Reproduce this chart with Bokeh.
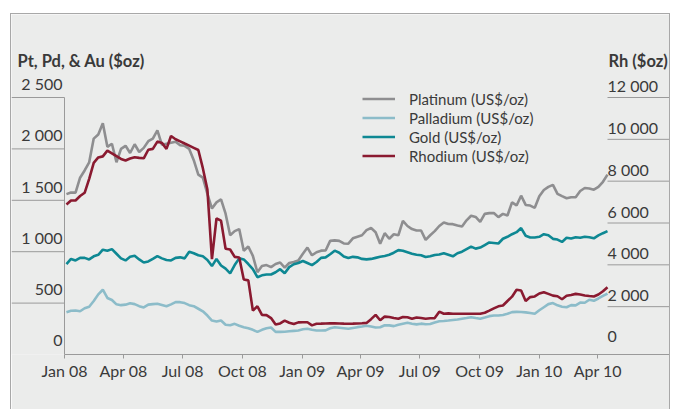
import pandas as pd
from bokeh.plotting import figure
from bokeh.models import (Range1d, FixedTicker, DatetimeTickFormatter,
                          Legend, LegendItem, Label, Spacer)
from bokeh.core.properties import value
from bokeh.layouts import row, column
from bokeh.embed import file_html
from bokeh.resources import INLINE

# ---------------- data (weekly) ----------------
start_week = "2008-01-04"
n_weeks = 120

platinum = [
    1560, 1576, 1575, 1720, 1790, 1870, 2100, 2140, 2250, 2020,
    2050, 1870, 2000, 2030, 1960, 2045, 1970, 2010, 2075, 2100,
    2180, 2040, 2050, 2060, 2070, 2035, 2030, 2000, 1890, 1750,
    1720, 1563, 1420, 1480, 1510, 1370, 1160, 1200, 1220, 1010,
    1050, 960, 800, 860, 870, 850, 880, 895, 845, 890,
    900, 915, 980, 1040, 965, 995, 1010, 1012, 1105, 1110,
    1105, 1080, 1078, 1130, 1145, 1160, 1210, 1230, 1190, 1077,
    1180, 1126, 1170, 1160, 1300, 1250, 1220, 1206, 1206, 1115,
    1160, 1200, 1250, 1285, 1270, 1268, 1255, 1245, 1305, 1350,
    1338, 1290, 1368, 1375, 1377, 1336, 1368, 1352, 1480, 1450,
    1545, 1455, 1449, 1427, 1540, 1600, 1630, 1650, 1563, 1540,
    1520, 1530, 1530, 1590, 1620, 1615, 1603, 1630, 1680, 1750,
]

palladium = [
    410, 425, 428, 421, 450, 465, 520, 585, 630, 550,
    530, 488, 480, 485, 498, 490, 470, 458, 485, 490,
    493, 482, 470, 488, 509, 509, 500, 480, 470, 445,
    420, 379, 330, 320, 331, 290, 285, 298, 280, 266,
    255, 240, 220, 240, 255, 262, 220, 220, 222, 226,
    230, 234, 245, 250, 240, 233, 233, 235, 255, 265,
    260, 255, 250, 258, 266, 272, 280, 272, 262, 265,
    285, 283, 276, 290, 300, 308, 300, 293, 300, 295,
    297, 312, 324, 326, 330, 335, 340, 348, 355, 363,
    355, 348, 360, 373, 379, 379, 385, 396, 412, 415,
    413, 410, 403, 396, 430, 460, 490, 500, 478, 465,
    460, 480, 478, 505, 503, 533, 522, 545, 570, 592,
]

gold = [
    880, 930, 915, 940, 940, 925, 955, 970, 1020, 1010,
    1025, 980, 935, 915, 950, 960, 925, 895, 905, 930,
    957, 935, 920, 915, 940, 945, 935, 1000, 985, 965,
    955, 920, 860, 930, 866, 835, 790, 870, 935, 925,
    880, 830, 752, 770, 778, 778, 800, 830, 790, 850,
    878, 890, 910, 890, 870, 900, 940, 945, 975, 1010,
    990, 953, 938, 950, 945, 930, 925, 930, 940, 950,
    958, 970, 990, 1015, 1010, 995, 980, 970, 965, 948,
    955, 968, 972, 985, 970, 955, 985, 1000, 1025, 1050,
    1030, 1040, 1065, 1090, 1085, 1080, 1126, 1145, 1170, 1190,
    1230, 1155, 1138, 1138, 1145, 1170, 1160, 1125, 1118, 1095,
    1135, 1128, 1140, 1135, 1145, 1140, 1130, 1158, 1180, 1200,
]

rhodium = [
    6881, 7076, 7076, 7291, 7444, 8110, 8878, 9134, 9185, 9461,
    9328, 9195, 9062, 8990, 9083, 9144, 9113, 9093, 9502, 9543,
    9892, 9830, 9543, 10158, 10004, 9902, 9799, 9697, 9595, 9492,
    8622, 7598, 4270, 6215, 6113, 4766, 4731, 4382, 4352, 3297,
    3256, 1812, 2017, 1607, 1597, 1454, 1147, 1198, 1331, 1229,
    1167, 1249, 1257, 1257, 1106, 1180, 1188, 1198, 1203, 1208,
    1198, 1188, 1182, 1188, 1198, 1208, 1223, 1403, 1607, 1351,
    1525, 1505, 1454, 1423, 1505, 1495, 1423, 1485, 1454, 1423,
    1444, 1454, 1761, 1659, 1679, 1659, 1659, 1659, 1659, 1659,
    1659, 1659, 1710, 1812, 1915, 2017, 2058, 2273, 2478, 2805,
    2775, 2273, 2457, 2488, 2631, 2693, 2611, 2529, 2498, 2355,
    2519, 2560, 2611, 2580, 2534, 2509, 2488, 2580, 2734, 2928,
]

series_names = ["Platinum (US$/oz)", "Palladium (US$/oz)", "Gold (US$/oz)", "Rhodium (US$/oz)"]

left_ticks = [0, 500, 1000, 1500, 2000, 2500]
left_tick_labels = ["0", "500", "1 000", "1 500", "2 000", "2 500"]
right_ticks = [0, 2000, 4000, 6000, 8000, 10000, 12000]
right_tick_labels = ["0", "2 000", "4 000", "6 000", "8 000", "10 000", "12 000"]
x_tick_dates = ["2008-01-01", "2008-04-01", "2008-07-01", "2008-10-01", "2009-01-01",
                "2009-04-01", "2009-07-01", "2009-10-01", "2010-01-01", "2010-04-01"]
x_axis_start = "2008-01-01"
left_title = "Pt, Pd, & Au ($oz)"
right_title = "Rh ($oz)"

# ---------------- layout / styles ----------------
BG = "#ebeceb"
FRAME_LINE = "#a8a8a8"
AXIS = "#9a9a9a"
TEXT = "#3a3a3a"
FONT = "Lato"
C_PT = "#8e8e90"
C_PD = "#8cbcc9"
C_AU = "#0e8893"
C_RH = "#8a1a30"

W, H = 660, 396          # canvas size
BOTTOM = 56              # space under the frame for the date axis
LEFT_PAD, RIGHT_PAD = 53, 64   # px left of Jan 08 / right of last week
FRAME_H = H - BOTTOM
LEFT_SPAN_PX = 257       # px for 0..2500 on the left scale
RIGHT_SPAN_PX = 251      # px for 0..12000 on the right scale
RIGHT_ZERO_PX = 6        # right-scale zero sits this many px above the date axis


def ms(t):
    return pd.Timestamp(t).value / 1e6


dates = pd.date_range(start_week, periods=n_weeks, freq="7D")
x_start = ms(x_axis_start)
x_end = ms(dates[-1])
px_per_ms = (W - LEFT_PAD - RIGHT_PAD) / (x_end - x_start)
x_lo = x_start - LEFT_PAD / px_per_ms
x_hi = x_end + RIGHT_PAD / px_per_ms

y_top = left_ticks[-1] * FRAME_H / LEFT_SPAN_PX
rh_per_px = right_ticks[-1] / RIGHT_SPAN_PX
rh_lo = -RIGHT_ZERO_PX * rh_per_px
rh_hi = rh_lo + FRAME_H * rh_per_px

p = figure(width=W, height=H, x_axis_type="datetime",
           x_range=Range1d(x_lo, x_hi), y_range=Range1d(0, y_top),
           output_backend="svg", toolbar_location=None,
           min_border_left=0, min_border_right=0, min_border_top=0, min_border_bottom=BOTTOM,
           background_fill_color=BG, border_fill_color=BG, outline_line_color=None)
p.extra_y_ranges = {"rh": Range1d(rh_lo, rh_hi)}
p.grid.visible = False
p.yaxis.visible = False

# ---- left scale (drawn through the left range) ----
p.segment(x0=[x_start], y0=[left_ticks[0]], x1=[x_start], y1=[left_ticks[-1]],
          line_color=AXIS, line_width=1)
p.segment(x0=[x_lo] * (len(left_ticks) - 1), y0=left_ticks[1:],
          x1=[x_start] * (len(left_ticks) - 1), y1=left_ticks[1:],
          line_color=AXIS, line_width=1)
p.text(x=[x_start] * len(left_ticks), y=left_ticks, text=left_tick_labels,
       x_offset=-2, y_offset=-14, text_align="right", text_baseline="alphabetic",
       text_font=value(FONT), text_font_size="16px", text_color=TEXT)

# ---- right scale (drawn through the rh range) ----
p.segment(x0=[x_end] * (len(right_ticks) - 1), y0=right_ticks[1:],
          x1=[x_hi] * (len(right_ticks) - 1), y1=right_ticks[1:],
          line_color=AXIS, line_width=1, y_range_name="rh")
p.text(x=[x_end] * len(right_ticks), y=right_ticks, text=right_tick_labels,
       x_offset=0, y_offset=-12, text_align="left", text_baseline="alphabetic",
       text_font=value(FONT), text_font_size="16px", text_color=TEXT, y_range_name="rh")

# ---- series ----
r_pt = p.line(dates, platinum, line_color=C_PT, line_width=2.6)
r_pd = p.line(dates, palladium, line_color=C_PD, line_width=2.6)
r_au = p.line(dates, gold, line_color=C_AU, line_width=2.6)
r_rh = p.line(dates, rhodium, line_color=C_RH, line_width=2.6, y_range_name="rh")

# ---- date axis ----
xa = p.xaxis[0]
xa.bounds = (x_start, x_hi)
xa.ticker = FixedTicker(ticks=[ms(d) for d in x_tick_dates])
xa.formatter = DatetimeTickFormatter(days="%b %y", months="%b %y", years="%b %y")
xa.major_tick_out = 4
xa.major_tick_in = 0
xa.minor_tick_out = 0
xa.minor_tick_in = 0
xa.major_label_standoff = 2
xa.axis_line_color = AXIS
xa.major_tick_line_color = AXIS
xa.major_label_text_font = FONT
xa.major_label_text_font_size = "16px"
xa.major_label_text_color = TEXT

# ---- scale titles ----
p.add_layout(Label(x=x_start, y=left_ticks[-1], x_offset=-47, y_offset=37, text=left_title,
                   text_font=FONT, text_font_size="16.5px", text_font_style="bold",
                   text_color=TEXT, text_align="left", text_baseline="alphabetic"))
p.add_layout(Label(x=x_end, y=left_ticks[-1], x_offset=1, y_offset=37, text=right_title,
                   text_font=FONT, text_font_size="16.5px", text_font_style="bold",
                   text_color=TEXT, text_align="left", text_baseline="alphabetic"))

legend = Legend(items=[LegendItem(label=n, renderers=[r]) for n, r in
                       zip(series_names, [r_pt, r_pd, r_au, r_rh])],
                location=(351, 189), orientation="vertical",
                background_fill_alpha=0, border_line_color=None,
                padding=0, margin=0, spacing=0,
                glyph_width=33, glyph_height=19, label_height=19, label_standoff=14,
                label_text_font=FONT, label_text_font_size="15px", label_text_color=TEXT)
p.add_layout(legend, "center")

p.styles = {"border-top": f"1px solid {FRAME_LINE}", "border-left": f"1px solid {FRAME_LINE}",
            "border-right": f"1px solid {FRAME_LINE}"}

layout = column(Spacer(height=13), row(Spacer(width=10), p))

with open("out.html", "w") as f:
    f.write(file_html(layout, INLINE))
